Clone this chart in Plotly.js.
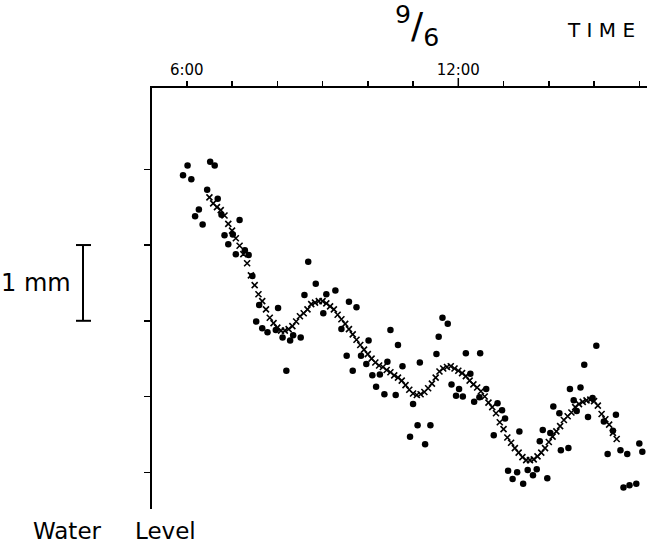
<!DOCTYPE html>
<html>
<head>
<meta charset="utf-8">
<script src="https://cdn.plot.ly/plotly-3.0.1.min.js"></script>
<style>
  html, body { margin: 0; padding: 0; background: #fff; }
  #chart { width: 647px; height: 543px; }
</style>
</head>
<body>
<div id="chart"></div>
<script>
// ---- data (time of day on 9/6, water level in mm) ----
var crossTimes = [
  "6:30","6:35","6:40","6:45","6:50","6:55","7:00","7:05","7:10","7:15","7:20","7:25",
  "7:30","7:35","7:40","7:45","7:50","7:55","8:00","8:05","8:10","8:15","8:20","8:25",
  "8:30","8:35","8:40","8:45","8:50","8:55","9:00","9:05","9:10","9:15","9:20","9:25",
  "9:30","9:35","9:40","9:45","9:50","9:55","10:00","10:05","10:10","10:15","10:20","10:25",
  "10:30","10:35","10:40","10:45","10:50","10:55","11:00","11:05","11:10","11:15","11:20","11:25",
  "11:30","11:35","11:40","11:45","11:50","11:55","12:00","12:05","12:10","12:15","12:20","12:25",
  "12:30","12:35","12:40","12:45","12:50","12:55","13:00","13:05","13:10","13:15","13:20","13:25",
  "13:30","13:35","13:40","13:45","13:50","13:55","14:00","14:05","14:10","14:15","14:20","14:25",
  "14:30","14:35","14:40","14:45","14:50","14:55","15:00","15:05","15:10","15:15","15:20","15:25",
  "15:30"
];
var crossLevel = [
  3.63,3.55,3.50,3.46,3.39,3.28,3.19,3.09,2.99,2.88,2.76,2.60,
  2.47,2.35,2.26,2.15,2.04,1.97,1.91,1.87,1.87,1.89,1.93,1.99,
  2.06,2.10,2.15,2.22,2.24,2.26,2.26,2.23,2.19,2.15,2.08,2.02,
  1.96,1.89,1.82,1.75,1.68,1.62,1.56,1.50,1.45,1.41,1.39,1.35,
  1.32,1.28,1.25,1.21,1.15,1.09,1.04,1.02,1.03,1.06,1.11,1.17,
  1.25,1.33,1.37,1.39,1.40,1.37,1.34,1.31,1.27,1.21,1.16,1.12,
  1.07,1.00,0.92,0.86,0.78,0.66,0.57,0.46,0.39,0.32,0.26,0.20,
  0.16,0.16,0.17,0.21,0.26,0.32,0.40,0.47,0.54,0.61,0.69,0.74,
  0.79,0.86,0.90,0.93,0.95,0.96,0.94,0.88,0.77,0.70,0.63,0.52,
  0.44
];
var dotTimes = [
  "5:55","6:01","6:06","6:11","6:16","6:21","6:27","6:31","6:37","6:41","6:46","6:50",
  "6:55","7:01","7:05","7:10","7:17","7:22","7:27","7:32","7:36","7:40","7:47","7:58",
  "8:01","8:07","8:12","8:17","8:21","8:31","8:36","8:41","8:51","9:01","9:05","9:17",
  "9:25","9:32","9:35","9:40","9:45","9:51","9:58","10:01","10:06","10:11","10:16","10:22",
  "10:26","10:30","10:37","10:40","10:46","10:56","11:00","11:06","11:09","11:16","11:23","11:31",
  "11:34","11:39","11:46","11:51","11:57","12:01","12:06","12:10","12:16","12:21","12:28","12:29",
  "12:37","12:47","12:52","12:58","13:02","13:06","13:12","13:18","13:21","13:26","13:32","13:39",
  "13:44","13:48","13:52","13:58","14:02","14:06","14:14","14:16","14:26","14:28","14:33","14:37",
  "14:42","14:47","14:52","14:58","15:03","15:13","15:18","15:25","15:29","15:35","15:39","15:44",
  "15:47","15:56","16:00","16:04"
];
var dotLevel = [
  3.92,4.05,3.87,3.38,3.47,3.27,3.73,4.10,4.05,3.61,3.40,3.13,
  3.01,3.14,2.88,3.33,2.93,2.87,2.59,1.99,2.21,1.90,1.85,1.88,
  2.17,1.78,1.34,1.74,1.81,1.78,2.34,2.78,2.49,2.10,2.35,2.40,
  1.89,1.54,2.25,1.34,2.18,1.54,1.43,1.74,1.28,1.13,1.29,1.03,
  1.46,1.88,1.02,1.68,1.40,0.47,0.90,0.62,1.45,0.37,0.62,1.56,
  1.79,2.04,1.96,1.16,1.01,1.10,1.00,1.57,1.30,0.93,0.99,1.57,
  1.10,0.49,0.91,0.82,0.71,0.02,-0.09,0.00,0.54,-0.15,0.03,-0.04,
  0.04,0.41,0.56,-0.08,0.52,0.87,0.78,0.29,0.32,1.10,0.95,0.81,
  1.12,1.42,0.73,0.98,1.67,0.67,0.24,0.55,0.76,0.29,-0.20,0.24,
  -0.17,-0.15,0.38,0.27
];
var labelHours = [6, 12];
var labelText = ["6:00", "12:00"];
var hourTicks = [6,7,8,9,10,11,12,13,14,15,16];
var levelTicks = [0,1,2,3,4];

// ---- helpers ----
function toHours(s) { var p = s.split(":"); return +p[0] + (+p[1]) / 60; }

var W = 647, H = 543;
var M = { l: 152, r: 0, t: 88, b: 34 };
var xRange = [5.231, 16.17];
var yRange = [-0.4845, 5.073];
var pw = W - M.l - M.r, ph = H - M.t - M.b;
function px(x) { return (x - M.l) / pw; }
function py(y) { return (H - M.b - y) / ph; }
function yPaper(v) { return (v - yRange[0]) / (yRange[1] - yRange[0]); }

var FONT = "DejaVu Sans, Liberation Sans, sans-serif";

var traces = [
  {
    x: dotTimes.map(toHours), y: dotLevel, type: "scatter", mode: "markers",
    marker: { symbol: "circle", size: 6.5, color: "#000" },
    hoverinfo: "skip", showlegend: false, cliponaxis: false
  },
  {
    x: crossTimes.map(toHours), y: crossLevel, type: "scatter", mode: "markers",
    marker: { symbol: "x-thin", size: 6, color: "#000", line: { width: 1.6, color: "#000" } },
    hoverinfo: "skip", showlegend: false, cliponaxis: false
  }
];

// 1 mm scale bar = distance between two level ticks
var sbTop = yPaper(3), sbBot = yPaper(2);
var sbX = px(83), capL = px(76), capR = px(91);

var layout = {
  width: W, height: H,
  margin: { l: M.l, r: M.r, t: M.t, b: M.b, pad: 0 },
  paper_bgcolor: "#fff", plot_bgcolor: "#fff",
  showlegend: false,
  font: { family: FONT, color: "#000" },
  xaxis: {
    side: "top", range: xRange, showgrid: false, zeroline: false,
    showline: true, linewidth: 2, linecolor: "#000",
    ticks: "outside", ticklen: 5, tickwidth: 1.5, tickcolor: "#000",
    tickmode: "array", tickvals: labelHours, ticktext: labelText,
    tickfont: { family: FONT, size: 15, color: "#000" },
    minor: { tickmode: "array", tickvals: hourTicks, ticks: "outside", ticklen: 5,
             tickwidth: 1.5, tickcolor: "#000", showgrid: false }
  },
  yaxis: {
    range: yRange, showgrid: false, zeroline: false,
    showline: true, linewidth: 2, linecolor: "#000",
    ticks: "outside", ticklen: 6, tickwidth: 1.5, tickcolor: "#000",
    tickmode: "array", tickvals: levelTicks, showticklabels: false
  },
  shapes: [
    { type: "line", xref: "x", yref: "paper", x0: 12, x1: 12, y0: 1, y1: 1 + 10 / ph,
      line: { color: "#000", width: 1.5 } },
    { type: "line", xref: "paper", yref: "paper", x0: sbX, x1: sbX, y0: sbBot, y1: sbTop,
      line: { color: "#000", width: 2 } },
    { type: "line", xref: "paper", yref: "paper", x0: capL, x1: capR, y0: sbTop, y1: sbTop,
      line: { color: "#000", width: 2 } },
    { type: "line", xref: "paper", yref: "paper", x0: capL, x1: capR, y0: sbBot, y1: sbBot,
      line: { color: "#000", width: 2 } }
  ],
  annotations: [
    { text: "<sup>9</sup>/<sub>6</sub>", xref: "paper", yref: "paper", x: px(417), y: py(26),
      xanchor: "center", yanchor: "middle",
      showarrow: false, font: { family: FONT, size: 36, color: "#000" } },
    { text: "T I M E", xref: "paper", yref: "paper", x: px(601), y: py(30), xanchor: "center", yanchor: "middle",
      showarrow: false, font: { family: FONT, size: 20, color: "#000" } },
    { text: "1 mm", xref: "paper", yref: "paper", x: px(73), y: py(283), xanchor: "right", yanchor: "middle",
      showarrow: false, font: { family: FONT, size: 24, color: "#000" } },
    { text: "Water", xref: "paper", yref: "paper", x: px(67.5), y: py(531), xanchor: "center", yanchor: "middle",
      showarrow: false, font: { family: FONT, size: 23, color: "#000" } },
    { text: "Level", xref: "paper", yref: "paper", x: px(165), y: py(531), xanchor: "center", yanchor: "middle",
      showarrow: false, font: { family: FONT, size: 23, color: "#000" } }
  ]
};

Plotly.newPlot("chart", traces, layout, { staticPlot: true, displayModeBar: false });
</script>
</body>
</html>
